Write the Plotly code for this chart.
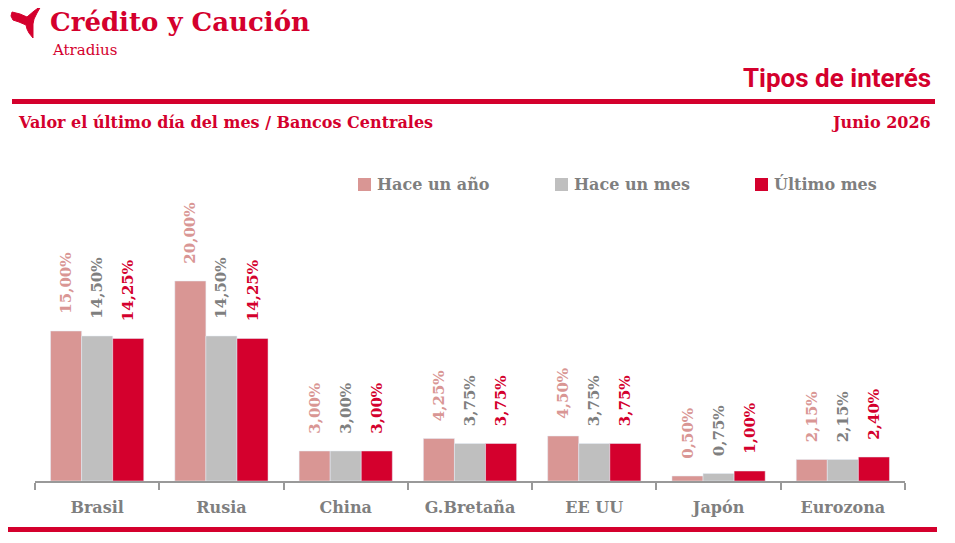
import plotly.graph_objects as go

# datos
paises = ['Brasil', 'Rusia', 'China', 'G.Bretaña', 'EE UU', 'Japón', 'Eurozona']
series_nombres = ['Hace un año', 'Hace un mes', 'Último mes']
hace_un_ano = [15.00, 20.00, 3.00, 4.25, 4.50, 0.50, 2.15]
hace_un_mes = [14.50, 14.50, 3.00, 3.75, 3.75, 0.75, 2.15]
ultimo_mes = [14.25, 14.25, 3.00, 3.75, 3.75, 1.00, 2.40]

ROJO = '#d4002d'
ROSA = '#d99694'
GRIS = '#bfbfbf'
GRIS_TXT = '#7f7f7f'
SERIF = 'DejaVu Serif'

W, H = 955, 543
OFF = 8  # margen del body de la pagina
# area del grafico en pixeles de pantalla
X0, X1, Y0, Y1 = 35, 905, 150, 481
PW, PH = X1 - X0, Y1 - Y0


def px(x):
    return (x - X0) / PW


def py(y):
    return (Y1 - y) / PH


fig = go.Figure()
colores = [(ROSA, ROSA), (GRIS, GRIS_TXT), (ROJO, ROJO)]
for name, vals, (col, tcol) in zip(series_nombres, [hace_un_ano, hace_un_mes, ultimo_mes], colores):
    fig.add_trace(go.Bar(
        x=paises, y=vals, name=name, marker_color=col,
        # espacios duros para separar la etiqueta de la barra
        texttemplate='\u00a0\u00a0\u00a0<b>%{y:.2f}%</b>', textposition='outside', textangle=-90,
        textfont=dict(family=SERIF, size=15, color=tcol),
        constraintext='none', cliponaxis=False, showlegend=False,
    ))

shapes = [
    dict(type='rect', xref='paper', yref='paper', x0=px(12), x1=px(935),
         y0=py(99), y1=py(104), fillcolor=ROJO, line_width=0),
    dict(type='rect', xref='paper', yref='paper', x0=px(0), x1=px(937),
         y0=py(527), y1=py(532), fillcolor=ROJO, line_width=0),
]
logo = [(12, 12), (20, 14), (27, 17), (34, 11), (41, 6), (37, 13), (34, 19),
        (33, 24), (33, 31), (33, 38), (29, 33), (27, 29), (26, 25), (19, 22),
        (13, 20), (11, 16)]
path = 'M ' + ' L '.join(f'{px(a):.4f},{py(b):.4f}' for a, b in logo) + ' Z'
shapes.append(dict(type='path', xref='paper', yref='paper', path=path,
                   fillcolor=ROJO, line=dict(color=ROJO, width=1)))

annotations = [
    dict(text='<b>Crédito y Caución</b>', x=px(48), y=py(22), xanchor='left',
         font=dict(family=SERIF, size=26, color=ROJO)),
    dict(text='Atradius', x=px(50), y=py(50), xanchor='left',
         font=dict(family=SERIF, size=15, color=ROJO)),
    dict(text='<b>Tipos de interés</b>', x=px(933), y=py(78), xanchor='right',
         font=dict(family='Roboto', size=26, color=ROJO)),
    dict(text='<b>Valor el último día del mes / Bancos Centrales</b>', x=px(16), y=py(123),
         xanchor='left', font=dict(family=SERIF, size=16, color=ROJO)),
    dict(text='<b>Junio 2026</b>', x=px(933), y=py(122), xanchor='right',
         font=dict(family=SERIF, size=16, color=ROJO)),
]

# leyenda
leyenda_x = [358, 555, 755]
for name, (col, _), lx in zip(series_nombres, colores, leyenda_x):
    shapes.append(dict(type='rect', xref='paper', yref='paper', x0=px(lx), x1=px(lx + 13),
                       y0=py(191), y1=py(178), fillcolor=col, line_width=0))
    annotations.append(dict(text=f'<b>{name}</b>', x=px(lx + 17), y=py(184), xanchor='left',
                            font=dict(family=SERIF, size=16, color=GRIS_TXT)))

for a in annotations:
    a.update(xref='paper', yref='paper', showarrow=False, yanchor='middle')

fig.update_layout(
    width=W, height=H,
    margin=dict(l=X0 - OFF, r=W - (X1 - OFF), t=Y0 - OFF, b=H - (Y1 - OFF)),
    plot_bgcolor='white', paper_bgcolor='white',
    barmode='group', bargap=0.25, bargroupgap=0,
    separators=',.',
    shapes=shapes, annotations=annotations,
    xaxis=dict(showline=True, linecolor='#999999', linewidth=2, ticks='outside',
               tickson='boundaries', ticklen=7, tickcolor='#999999', tickwidth=2,
               tickfont=dict(family=SERIF, size=16, color=GRIS_TXT),
               ticklabelstandoff=11, tickprefix='<b>', ticksuffix='</b>'),
    yaxis=dict(range=[0, PH / 10], visible=False, showgrid=False),
)

fig.write_html('out.html')
